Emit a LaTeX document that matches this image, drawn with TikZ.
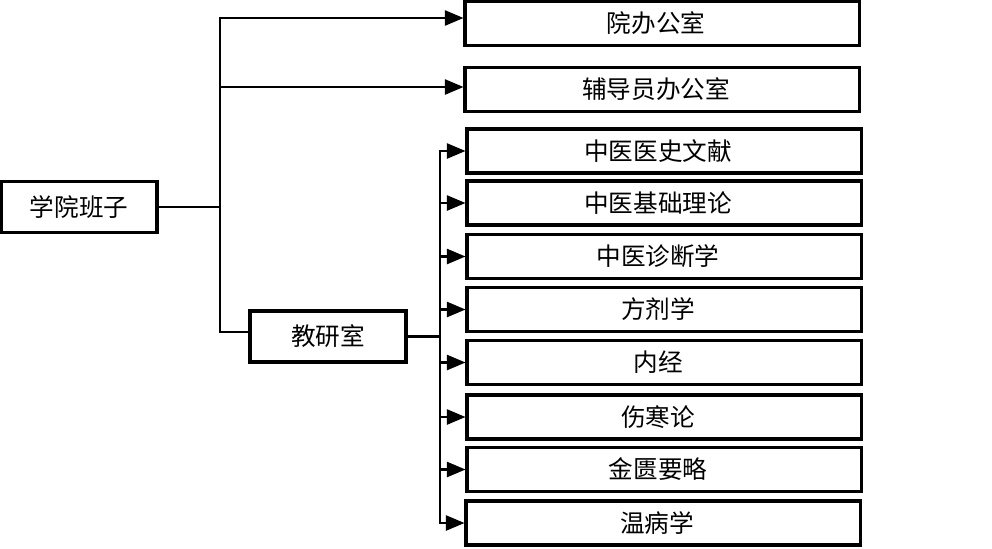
\documentclass[tikz,border=0pt]{standalone}
\usepackage{fontspec}
\newfontfamily\cjk{Noto Sans CJK SC}
\usetikzlibrary{arrows}

\begin{document}
\begin{tikzpicture}[x=0.025cm,y=-0.025cm,>=triangle 45]
	\tikzstyle{unit} = [rectangle,draw=black,line width=2.2pt,inner sep=0pt,font=\cjk\fontsize{17.5}{20}\selectfont];
	\tikzstyle{small} = [unit,minimum width=3.9cm,minimum height=1.275cm];
	\tikzstyle{wide} = [unit,minimum width=9.85cm,minimum height=1.1cm,execute at end node={\hspace{0.3cm}}];
	\tikzstyle{link} = [line width=2.1pt,line cap=rect];
	\useasboundingbox (0,0) rectangle (992,548);
	% left part
	\node[small] (banzi) at (79,207) {学院班子};
	\node[small] (jiaoyan) at (328,336.5) {教研室};
	\node[wide] (yuanban) at (662,23.5) {院办公室};
	\node[wide] (fudao) at (662,89.5) {辅导员办公室};
	% teaching sections
	\node[wide] (yishi) at (664,151) {中医医史文献};
	\node[wide] (jichu) at (664,203) {中医基础理论};
	\node[wide] (zhenduan) at (664,256.5) {中医诊断学};
	\node[wide] (fangji) at (664,309.5) {方剂学};
	\node[wide] (neijing) at (664,362.5) {内经};
	\node[wide] (shanghan) at (664,417) {伤寒论};
	\node[wide] (jingui) at (664,469.5) {金匮要略};
	\node[wide] (wenbing) at (663,523) {温病学};
	% connectors
	\coordinate (ttop) at (220,18);
	\coordinate (tmid) at (220,87);
	\coordinate (tbot) at (220,332);
	\coordinate (stop) at (440,151);
	\coordinate (sbot) at (440,523);
	\draw[link] (banzi.east) -- (banzi.east -| ttop);
	\draw[link] (ttop) -- (tbot) -- (jiaoyan.west |- tbot);
	\draw[link,->] (ttop) -- (yuanban.west |- ttop);
	\draw[link,->] (tmid) -- (fudao.west |- tmid);
	\draw[link] (jiaoyan.east) -- (jiaoyan.east -| stop);
	\draw[link] (stop) -- (sbot);
	\draw[link,->] (stop) -- (yishi.west);
	\draw[link,->] (stop |- jichu) -- (jichu.west);
	\draw[link,->] (stop |- zhenduan) -- (zhenduan.west);
	\draw[link,->] (stop |- fangji) -- (fangji.west);
	\draw[link,->] (stop |- neijing) -- (neijing.west);
	\draw[link,->] (stop |- shanghan) -- (shanghan.west);
	\draw[link,->] (stop |- jingui) -- (jingui.west);
	\draw[link,->] (sbot) -- (wenbing.west);
\end{tikzpicture}
\end{document}
